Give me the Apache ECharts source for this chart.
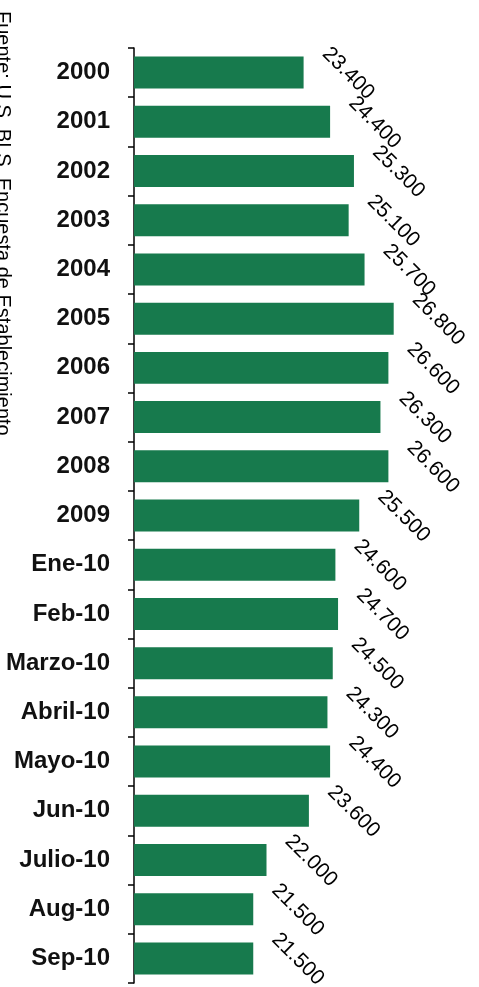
<!DOCTYPE html>
<html>
<head>
<meta charset="utf-8">
<script src="https://cdn.jsdelivr.net/npm/echarts@6/dist/echarts.min.js"></script>
<style>
  html, body { margin: 0; padding: 0; background: #ffffff; }
  #chart { width: 479px; height: 987px; }
</style>
</head>
<body>
<div id="chart"></div>
<script>
// Employment figures (thousands) by period
const categories = ['2000', '2001', '2002', '2003', '2004', '2005', '2006', '2007', '2008', '2009',
  'Ene-10', 'Feb-10', 'Marzo-10', 'Abril-10', 'Mayo-10', 'Jun-10', 'Julio-10', 'Aug-10', 'Sep-10'];
const values = [23.4, 24.4, 25.3, 25.1, 25.7, 26.8, 26.6, 26.3, 26.6, 25.5,
  24.6, 24.7, 24.5, 24.3, 24.4, 23.6, 22.0, 21.5, 21.5];
const sourceNote = 'Fuente: U.S. BLS, Encuesta de Establecimiento';

const chart = echarts.init(document.getElementById('chart'), null, { renderer: 'canvas' });

chart.setOption({
  backgroundColor: '#ffffff',
  animation: false,
  grid: { left: 134, right: 80, top: 48, bottom: 4, containLabel: false },
  xAxis: {
    type: 'value',
    min: 17,
    max: 27,
    show: false
  },
  yAxis: {
    type: 'category',
    data: categories,
    inverse: true,
    boundaryGap: true,
    axisLine: { show: true, lineStyle: { color: '#000000', width: 1.5 } },
    axisTick: { show: true, length: 6, lineStyle: { color: '#000000', width: 1.5 } },
    axisLabel: {
      margin: 24,
      fontFamily: 'Liberation Sans, Arial, sans-serif',
      fontSize: 24,
      fontWeight: 'bold',
      color: '#111111'
    },
    splitLine: { show: false }
  },
  series: [{
    type: 'bar',
    data: values,
    barCategoryGap: '35%',
    itemStyle: { color: '#177a4d' },
    label: {
      show: true,
      position: 'right',
      distance: 0,
      rotate: -45,
      offset: [0, -31],
      fontFamily: 'Liberation Sans, Arial, sans-serif',
      fontSize: 21,
      color: '#000000',
      formatter: p => p.value.toFixed(3)
    }
  }],
  graphic: [{
    type: 'text',
    x: 2.5,
    y: 11,
    rotation: -Math.PI / 2,
    style: {
      text: sourceNote,
      fontFamily: 'Liberation Sans, Arial, sans-serif',
      fontSize: 20,
      fill: '#000000',
      align: 'left',
      verticalAlign: 'middle'
    }
  }]
});
</script>
</body>
</html>
